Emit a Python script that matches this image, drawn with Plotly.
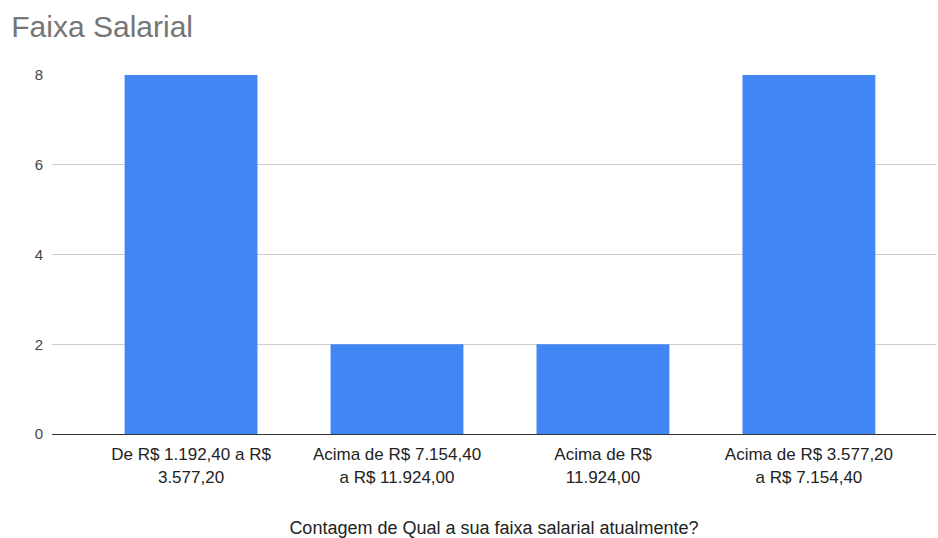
import plotly.graph_objects as go

categories = [
    "De R$ 1.192,40 a R$<br>3.577,20",
    "Acima de R$ 7.154,40<br>a R$ 11.924,00",
    "Acima de R$<br>11.924,00",
    "Acima de R$ 3.577,20<br>a R$ 7.154,40",
]
counts = [8, 2, 2, 8]
y_ticks = [0, 2, 4, 6, 8]

font_family = "Arial, Liberation Sans, sans-serif"

fig = go.Figure(
    go.Bar(
        x=list(range(len(categories))),
        y=counts,
        marker=dict(color="#4285F4", line=dict(width=0)),
        width=0.645,
        hoverinfo="y",
    )
)

fig.update_layout(
    width=938,
    height=538,
    paper_bgcolor="white",
    plot_bgcolor="white",
    margin=dict(l=52, r=2, t=75, b=104),
    showlegend=False,
    title=dict(
        text="Faixa Salarial",
        x=0.012,
        xanchor="left",
        y=0.95,
        yanchor="middle",
        font=dict(family=font_family, size=30, color="#757575"),
    ),
    font=dict(family=font_family, size=17, color="#444444"),
)

fig.update_xaxes(
    tickmode="array",
    tickvals=list(range(len(categories))),
    ticktext=categories,
    range=[-0.675, 3.617],
    showgrid=False,
    showline=True,
    linecolor="#333333",
    linewidth=1,
    ticks="",
    automargin=False,
    ticklabelstandoff=5,
    tickfont=dict(size=17, color="#222222"),
    title=dict(
        text="Contagem de Qual a sua faixa salarial atualmente?",
        font=dict(size=18, color="#222222"),
        standoff=35,
    ),
)

fig.update_yaxes(
    range=[0, 8],
    tickmode="array",
    tickvals=y_ticks,
    showgrid=True,
    gridcolor="#cccccc",
    gridwidth=1,
    zeroline=False,
    ticks="",
    automargin=False,
    ticklabelstandoff=8,
    tickfont=dict(size=15, color="#444444"),
)

fig.write_html("out.html")
